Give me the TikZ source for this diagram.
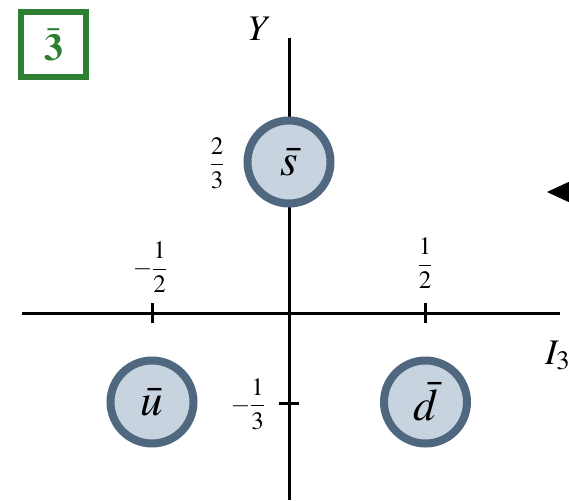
\documentclass[tikz,border=0pt]{standalone}
\usepackage{amsmath}
\usepackage{mathptmx}
\usepackage{fontspec}
\setmainfont{Liberation Serif}
\definecolor{boxgreen}{HTML}{2F7F33}
\definecolor{ringblue}{HTML}{4F6880}
\definecolor{fillblue}{HTML}{C8D3E0}
\begin{document}
\begin{tikzpicture}[x=1pt,y=-1pt,
  axis/.style={line width=3pt,black},
  tickmark/.style={line width=3pt,black},
  quark/.style={circle,draw=ringblue,fill=fillblue,line width=8pt,minimum size=83pt,inner sep=0pt,
    font=\fontsize{45}{50}\selectfont},
  frlabel/.style={font=\fontsize{25}{30}\selectfont,inner sep=0pt},
  axlabel/.style={font=\fontsize{36}{40}\selectfont,inner sep=0pt}]
\useasboundingbox (0,0) rectangle (569,500);
% green box
\node[draw=boxgreen,line width=6.5pt,minimum width=65pt,minimum height=65pt,inner sep=0pt,
  text=boxgreen,font=\fontsize{38}{42}\selectfont] (rep) at (53.5,44.5) {$\bar{\mathbf{3}}$};
% axes
\coordinate (xl) at (22,313);
\coordinate (xr) at (560,313);
\coordinate (yt) at (289,38);
\coordinate (yb) at (289,500);
\draw[axis] (xl) -- (xr);
\draw[axis] (yt) -- (yb);
% ticks
\coordinate (t1a) at (152,303); \coordinate (t1b) at (152,323);
\coordinate (t2a) at (425,303); \coordinate (t2b) at (425,323);
\coordinate (t3a) at (279,403); \coordinate (t3b) at (299,403);
\draw[tickmark] (t1a) -- (t1b);
\draw[tickmark] (t2a) -- (t2b);
\draw[tickmark] (t3a) -- (t3b);
% axis labels
\node[axlabel] (ylab) at (260,29) {$Y$};
\node[axlabel,anchor=base west] (ilab) at (545,364) {$I_3$};
% tick labels
\node[frlabel] (lmh) at (150,267) {$-\dfrac{1}{2}$};
\node[frlabel] (lph) at (425,263) {$\dfrac{1}{2}$};
\node[frlabel] (lpt) at (217,163) {$\dfrac{2}{3}$};
\node[frlabel] (lmt) at (248,404) {$-\dfrac{1}{3}$};
% quarks
\node[quark] (s) at (289,162) {$\bar{s}$};
\node[quark] (u) at (152,402) {$\bar{u}$};
\node[quark] (d) at (425.5,402) {$\bar{d}$};
% arrowhead at right edge
\fill[black] (547,192) -- (575,179) -- (575,205) -- cycle;
\end{tikzpicture}
\end{document}
